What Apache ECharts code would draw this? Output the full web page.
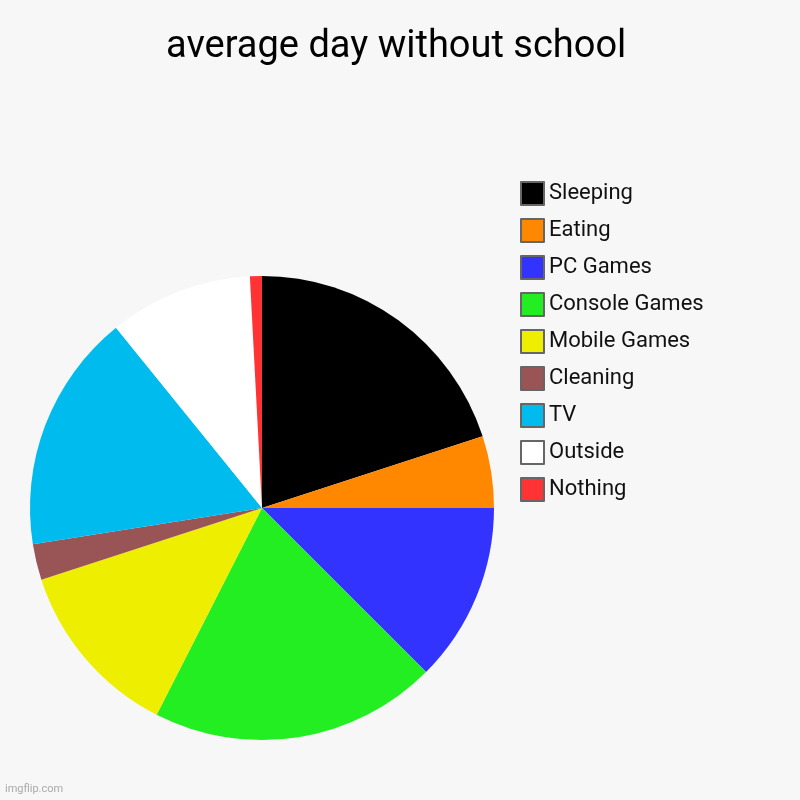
<!DOCTYPE html>
<html>
<head>
<meta charset="utf-8">
<script src="https://cdn.jsdelivr.net/npm/echarts@6/dist/echarts.min.js"></script>
<style>
  html, body { margin: 0; padding: 0; background: #f7f7f7; }
  #main { width: 800px; height: 800px; }
</style>
</head>
<body>
<div id="main"></div>
<script>
// activities (rough share of a day)
var labels = ['Sleeping', 'Eating', 'PC Games', 'Console Games', 'Mobile Games', 'Cleaning', 'TV', 'Outside', 'Nothing'];
var hours = [24, 6, 15, 24, 15, 3, 20, 12, 1];
var colors = ['#000000', '#ff8800', '#3333ff', '#22ee22', '#eeee00', '#995555', '#00bbee', '#ffffff', '#ff3333'];

var chart = echarts.init(document.getElementById('main'));

var pieData = labels.map(function (name, i) {
  return { name: name, value: hours[i], itemStyle: { color: colors[i] } };
});

chart.setOption({
  backgroundColor: '#f7f7f7',
  animation: false,
  title: {
    text: 'average day without school',
    left: 161,
    top: 23,
    textStyle: {
      fontFamily: 'Roboto',
      fontWeight: 'normal',
      fontSize: 38,
      color: '#000'
    }
  },
  graphic: [{
    type: 'text',
    left: 5,
    top: 784,
    style: { text: 'imgflip.com', fill: '#aaaaaa', fontSize: 11, fontFamily: 'Roboto' }
  }],
  legend: {
    orient: 'vertical',
    left: 515,
    top: 176,
    icon: 'rect',
    itemWidth: 23,
    itemHeight: 23,
    itemGap: 12,
    itemStyle: { borderColor: '#666', borderWidth: 2 },
    textStyle: { fontFamily: 'Roboto', fontSize: 22, lineHeight: 24, color: '#111' },
    data: labels
  },
  series: [{
    type: 'pie',
    center: [262, 508],
    radius: [0, 232],
    startAngle: 90,
    clockwise: true,
    label: { show: false },
    labelLine: { show: false },
    emphasis: { disabled: true },
    itemStyle: { borderWidth: 0 },
    data: pieData
  }]
});
</script>
</body>
</html>
